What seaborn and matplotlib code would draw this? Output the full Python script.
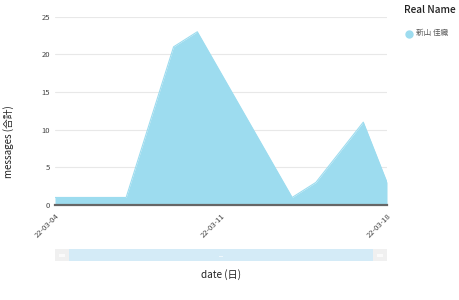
import matplotlib
matplotlib.use("Agg")
import matplotlib.pyplot as plt
import matplotlib.dates as mdates
from matplotlib.patches import Rectangle
from matplotlib.lines import Line2D
import seaborn as sns
import pandas as pd

# ---- data ----
dates = ["2022-03-04", "2022-03-07", "2022-03-09", "2022-03-10",
         "2022-03-14", "2022-03-15", "2022-03-17", "2022-03-18"]
messages = [1, 1, 21, 23, 1, 3, 11, 3]
series_name = "新山 佳織"
tick_dates = ["2022-03-04", "2022-03-11", "2022-03-18"]
y_ticks = [0, 5, 10, 15, 20, 25]

df = pd.DataFrame({"date": pd.to_datetime(dates), "messages": messages,
                   "Real Name": series_name})

sns.set_theme(style="white")
plt.rcParams["font.family"] = ["Noto Sans CJK JP", "DejaVu Sans"]

W, H = 460, 300
fig = plt.figure(figsize=(W / 100, H / 100), dpi=100)
fig.patch.set_facecolor("white")

x0, x1, ytop, ybot = 55, 387, 16.7, 205
ax = fig.add_axes([x0 / W, 1 - ybot / H, (x1 - x0) / W, (ybot - ytop) / H])

fill_color = "#9ddcef"
sns.lineplot(data=df, x="date", y="messages", ax=ax, color=fill_color,
             linewidth=0.8, legend=False)
ax.fill_between(df["date"], 0, df["messages"], color=fill_color, linewidth=0)

ax.set_xlim(pd.Timestamp(dates[0]), pd.Timestamp(dates[-1]))
ax.set_ylim(0, 25)
ax.set_yticks(y_ticks)
ax.set_xticks(pd.to_datetime(tick_dates))
ax.xaxis.set_major_formatter(mdates.DateFormatter("%y-%m-%d"))
ax.grid(axis="y", color="#e8e8e8", linewidth=0.8)
ax.set_axisbelow(True)
for s in ["top", "right", "left"]:
    ax.spines[s].set_visible(False)
ax.spines["bottom"].set_color("#666666")
ax.spines["bottom"].set_linewidth(1.6)
ax.tick_params(axis="both", length=0, labelsize=5.5, colors="#444444")
ax.tick_params(axis="y", pad=3.5)
ax.tick_params(axis="x", pad=5)
for lbl in ax.get_xticklabels():
    lbl.set_rotation(45)
    lbl.set_ha("right")
    lbl.set_va("top")
    lbl.set_rotation_mode("anchor")

ax.set_xlabel("")
ax.set_ylabel("")
fig.text(9 / W, 1 - 142 / H, "messages (合計)", rotation=90, ha="center",
         va="center", fontsize=7.0, color="#222222")
fig.text(221 / W, 1 - 275 / H, "date (日)", ha="center", va="center",
         fontsize=7.2, color="#222222")

# legend
fig.text(404 / W, 1 - 10 / H, "Real Name", ha="left", va="center",
         fontsize=7.3, color="#222222", fontweight="medium")
fig.add_artist(Line2D([409 / W], [1 - 33.5 / H], transform=fig.transFigure,
                      marker="o", markersize=5, color=fill_color,
                      linestyle="none"))
fig.text(416 / W, 1 - 33 / H, series_name, ha="left", va="center",
         fontsize=5.5, color="#555555")

# range slider
def frect(px, py, pw, ph, color):
    fig.patches.append(Rectangle((px / W, 1 - (py + ph) / H), pw / W, ph / H,
                                 transform=fig.transFigure, color=color,
                                 linewidth=0, figure=fig))

frect(55, 249, 332, 12, "#f0f0f0")
frect(69, 249, 304, 12, "#d4ebf7")
frect(59, 253.5, 6, 3, "#fafafa")
frect(377, 253.5, 6, 3, "#fafafa")
frect(219, 253.5, 4, 0.8, "#eef7fc")
frect(219, 256, 4, 0.8, "#eef7fc")

fig.savefig("out.png", dpi=100, facecolor="white")
